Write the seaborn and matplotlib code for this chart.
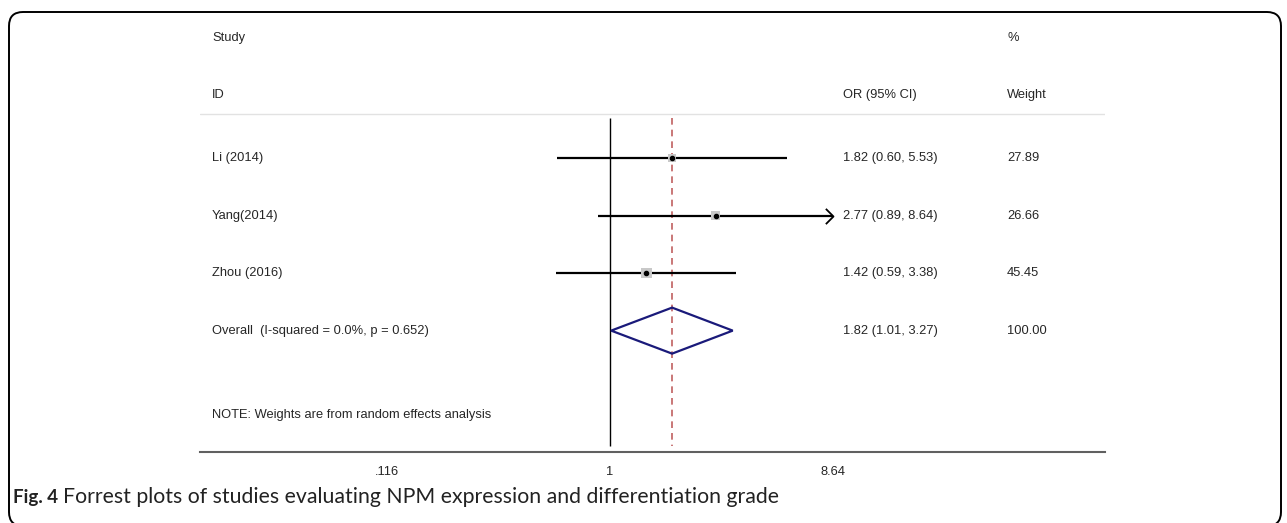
import numpy as np
import pandas as pd
import matplotlib
matplotlib.use("Agg")
import matplotlib.pyplot as plt
import seaborn as sns
from matplotlib.path import Path
from matplotlib.patches import FancyBboxPatch, Polygon
from matplotlib import transforms

# data
studies = ["Li (2014)", "Yang(2014)", "Zhou (2016)"]
odds = [1.82, 2.77, 1.42]
ci_low = [0.60, 0.89, 0.59]
ci_high = [5.53, 8.64, 3.38]
weights = [27.89, 26.66, 45.45]
or_text = ["1.82 (0.60, 5.53)", "2.77 (0.89, 8.64)", "1.42 (0.59, 3.38)"]
weight_text = ["27.89", "26.66", "45.45"]
overall_or = 1.82
overall_low = 1.01
overall_high = 3.27
overall_label = "Overall  (I-squared = 0.0%, p = 0.652)"
overall_or_text = "1.82 (1.01, 3.27)"
overall_weight_text = "100.00"
tick_vals = [0.116, 1, 8.64]
tick_labels = [".116", "1", "8.64"]

df = pd.DataFrame({"study": studies, "OR": odds, "lo": ci_low, "hi": ci_high,
                   "weight": weights, "row": [1, 2, 3]})

sns.set_style("white")
plt.rcParams["font.family"] = ["Liberation Sans", "DejaVu Sans"]

fig = plt.figure(figsize=(12.87, 5.23), dpi=100)
W, H = 1287, 523
ax = fig.add_axes([200 / W, (H - 452) / H, 905 / W, 432 / H])
ax.set_xscale("log")
ax.set_xlim(0.019, 119.4)
ax.set_ylim(6.11, -1.4)

# reference lines
ax.vlines(1, 0.30, 6.0, color="black", lw=1.0)
ax.vlines(overall_or, 0.30, 6.0, color="#c06060", lw=1.2, linestyles=(0, (4, 3)))
ax.axhline(0.235, color="#e2e2e2", lw=1.0)

# confidence intervals
cap = max(tick_vals)
for _, r in df.iterrows():
    ax.hlines(r["row"], r["lo"], min(r["hi"], cap), color="black", lw=1.6, zorder=3)
    if r["hi"] >= cap:
        chevron = Path([(-1, 1), (0, 0), (-1, -1)], [Path.MOVETO, Path.LINETO, Path.LINETO])
        ax.plot([cap], [r["row"]], marker=chevron, markersize=11, mfc="none",
                mec="black", mew=1.3, zorder=4)

# weight squares and point estimates
sns.scatterplot(data=df, x="OR", y="row", size="weight", sizes=(0, 60),
                size_norm=(0, max(weights)), marker="s", color="#c8c8c8",
                edgecolor="none", legend=False, ax=ax, zorder=4)
ax.scatter(df["OR"], df["row"], s=9, color="black", zorder=5)

# pooled diamond
dy = 0.4
diamond = Polygon([(overall_low, 4), (overall_or, 4 - dy), (overall_high, 4),
                   (overall_or, 4 + dy)], closed=True, fill=False,
                  edgecolor="#1a1a7a", lw=1.6, zorder=5)
ax.add_patch(diamond)

# text columns
tr = transforms.blended_transform_factory(ax.transAxes, ax.transData)
fs = 9.3
x_id, x_or, x_w = 12 / 905, 643 / 905, 807 / 905
ax.text(x_id, -1.09, "Study", transform=tr, va="center", fontsize=fs)
ax.text(x_w, -1.09, "%", transform=tr, va="center", fontsize=fs)
ax.text(x_id, -0.1, "ID", transform=tr, va="center", fontsize=fs)
ax.text(x_or, -0.1, "OR (95% CI)", transform=tr, va="center", fontsize=fs)
ax.text(x_w, -0.1, "Weight", transform=tr, va="center", fontsize=fs)
for i, r in df.iterrows():
    ax.text(x_id, r["row"], r["study"], transform=tr, va="center", fontsize=fs)
    ax.text(x_or, r["row"], or_text[i], transform=tr, va="center", fontsize=fs)
    ax.text(x_w, r["row"], weight_text[i], transform=tr, va="center", fontsize=fs)
ax.text(x_id, 4, overall_label, transform=tr, va="center", fontsize=fs)
ax.text(x_or, 4, overall_or_text, transform=tr, va="center", fontsize=fs)
ax.text(x_w, 4, overall_weight_text, transform=tr, va="center", fontsize=fs)
ax.text(x_id, 5.47, "NOTE: Weights are from random effects analysis", transform=tr,
        va="center", fontsize=fs)

# axis
for s in ["top", "left", "right"]:
    ax.spines[s].set_visible(False)
ax.spines["bottom"].set_color("#606060")
ax.spines["bottom"].set_linewidth(1.5)
ax.set_yticks([])
ax.set_xticks(tick_vals)
ax.set_xticklabels(tick_labels, fontsize=fs)
ax.minorticks_off()
ax.tick_params(axis="x", direction="out", length=5, width=1, color="#606060", pad=5)
ax.set_xlabel("")
ax.set_ylabel("")

# caption and frame
fig.text(13 / W, 1 - 497 / H, "Fig. 4", fontsize=13.5, fontweight="bold",
         family="Lato", va="center", color="#222222")
fig.text(63 / W, 1 - 497 / H, "Forrest plots of studies evaluating NPM expression and differentiation grade",
         fontsize=15.3, family="Lato", va="center", color="#222222")
frame = FancyBboxPatch((0.09, -0.03), 12.72, 5.14, boxstyle="round,pad=0,rounding_size=0.14",
                       transform=fig.dpi_scale_trans, fill=False, edgecolor="black", lw=1.4)
fig.patches.append(frame)

fig.savefig("out.png", dpi=100)
